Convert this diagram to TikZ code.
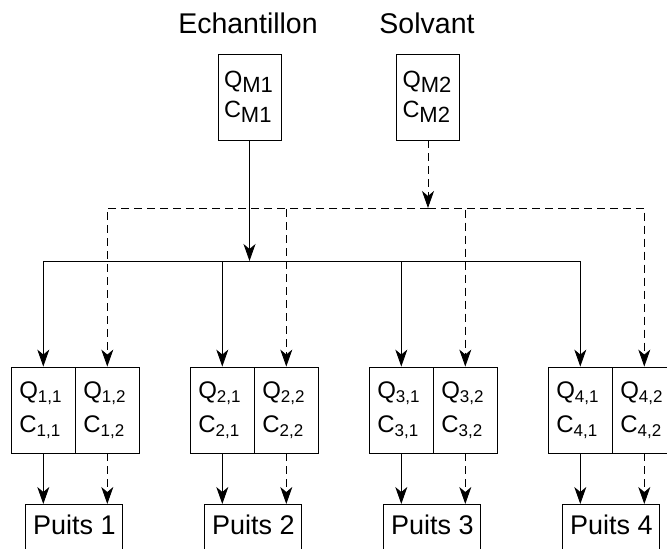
\documentclass[tikz,border=0pt]{standalone}
\usepackage{fontspec}
\setmainfont{Liberation Sans}
\usetikzlibrary{arrows.meta}
\newcommand{\subsm}[1]{\raisebox{-5pt}{\fontsize{22}{22}\selectfont #1}}
\newcommand{\subsw}[1]{\raisebox{-4.5pt}{\fontsize{17}{17}\selectfont #1}}
\begin{document}
\begin{tikzpicture}[x=1pt,y=-1pt,
  line width=0.85pt,
  every node/.style={inner sep=0pt},
  tip/.style={-{Stealth[length=17pt,width=12pt,inset=5pt]}},
  dsh/.style={dash pattern=on 8pt off 5pt},
  mixbox/.style={draw, minimum width=63pt, minimum height=86pt, inner xsep=6pt, text width=51pt, align=left, font=\fontsize{23.5}{30}\selectfont},
  well/.style={draw, minimum width=64pt, minimum height=86pt, inner xsep=8pt, text width=48pt, align=left, font=\fontsize{24}{34}\selectfont},
  puits/.style={draw, anchor=north, minimum width=97pt, text height=30.3pt, text depth=40pt, font=\fontsize{27}{27}\selectfont},
  title/.style={anchor=base, font=\fontsize{28.5}{28.5}\selectfont}]
\useasboundingbox (0,0) rectangle (667,549);
\clip (0,0) rectangle (667,549);

\node[title] (te) at (248,33) {Echantillon};
\node[title] (ts) at (427,33) {Solvant};
\node[mixbox] (m1) at (249.5,97) {Q\subsm{M1}\\C\subsm{M1}};
\node[mixbox] (m2) at (428,97) {Q\subsm{M2}\\C\subsm{M2}};

\coordinate (sj) at (249.5,261);
\coordinate (dj) at (428,208);

\foreach \g/\L in {1/11.3,2/190.3,3/369.3,4/548.3}{
  \node[well] (c\g1) at (\L+32,410) {Q\subsw{\g,1}\\C\subsw{\g,1}};
  \node[well] (c\g2) at (\L+96,410) {Q\subsw{\g,2}\\C\subsw{\g,2}};
  \node[puits] (p\g) at (\L+63,504) {Puits \g};
}

\draw[tip] (m1.south) -- (sj);
\draw[tip,dsh] (m2.south) -- (dj);
\foreach \g in {1,2,3,4}{
  \draw[tip] (sj) -| (c\g1.north);
  \draw[tip,dsh] (dj) -| (c\g2.north);
  \draw[tip] (c\g1.south) -- (c\g1.south |- p\g.north);
  \draw[tip,dsh] (c\g2.south) -- (c\g2.south |- p\g.north);
}
\end{tikzpicture}
\end{document}
